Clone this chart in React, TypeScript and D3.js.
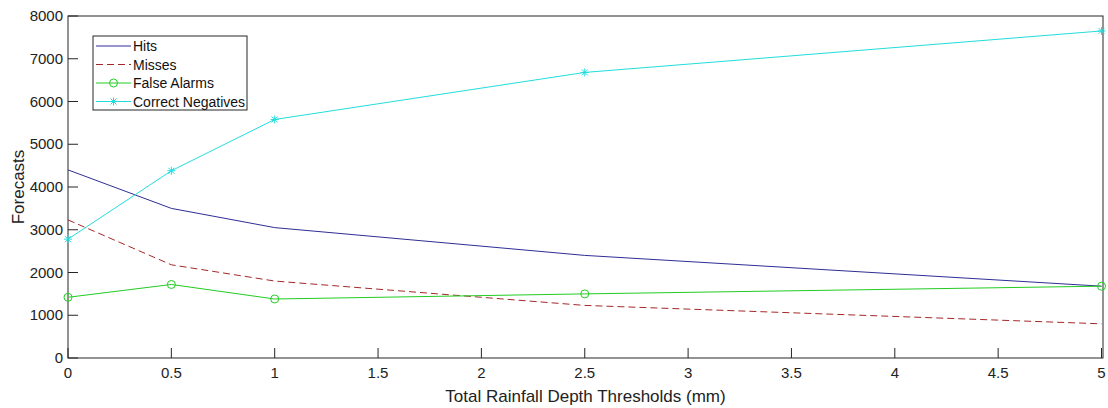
import React from "react";
import * as d3 from "d3";

const thresholds = [0, 0.5, 1, 2.5, 5];
const hits = [4400, 3500, 3050, 2400, 1680];
const misses = [3230, 2180, 1800, 1230, 800];
const falseAlarms = [1420, 1720, 1380, 1500, 1680];
const correctNegatives = [2780, 4380, 5580, 6680, 7650];
const xTicks = [0, 0.5, 1, 1.5, 2, 2.5, 3, 3.5, 4, 4.5, 5];
const yTicks = [0, 1000, 2000, 3000, 4000, 5000, 6000, 7000, 8000];

const W = 1108, H = 408;
const L = 68, R = 1103, T = 16, B = 358;

export default function App() {
  const x = d3.scaleLinear().domain([0, 5]).range([L, R - 1.5]);
  const y = d3.scaleLinear().domain([0, 8000]).range([B, T]);
  const line = d3.line<number>().x((_, i) => x(thresholds[i])).y((d) => y(d));
  const font = "'Liberation Sans', Arial, sans-serif";
  const axisColor = "#262626";
  const series = [
    { name: "Hits", vals: hits, color: "#2e2e96", dash: undefined as string | undefined, marker: "none" },
    { name: "Misses", vals: misses, color: "#a52828", dash: "7,4", marker: "none" },
    { name: "False Alarms", vals: falseAlarms, color: "#22cc22", dash: undefined, marker: "circle" },
    { name: "Correct Negatives", vals: correctNegatives, color: "#22dddd", dash: undefined, marker: "star" },
  ];
  const star = (cx: number, cy: number, c: string, k: string) => (
    <g key={k} stroke={c} strokeWidth={1}>
      <line x1={cx - 4} y1={cy} x2={cx + 4} y2={cy} />
      <line x1={cx} y1={cy - 4} x2={cx} y2={cy + 4} />
      <line x1={cx - 3} y1={cy - 3} x2={cx + 3} y2={cy + 3} />
      <line x1={cx - 3} y1={cy + 3} x2={cx + 3} y2={cy - 3} />
    </g>
  );
  const marker = (m: string, cx: number, cy: number, c: string, k: string) =>
    m === "circle" ? (
      <circle key={k} cx={cx} cy={cy} r={4} fill="none" stroke={c} strokeWidth={1} />
    ) : m === "star" ? star(cx, cy, c, k) : null;

  return (
    <svg width={W} height={H} style={{ position: "absolute", left: 0, top: 0, background: "#fff" }} fontFamily={font}>
      <rect x={0} y={0} width={W} height={H} fill="#fff" />
      <rect x={L} y={T} width={R - L} height={B - T} fill="none" stroke={axisColor} strokeWidth={1} />
      {xTicks.map((t) => (
        <g key={"x" + t}>
          <line x1={x(t)} x2={x(t)} y1={B} y2={B - 10} stroke={axisColor} />
          <text x={x(t)} y={B + 20} fontSize={15} textAnchor="middle" fill="#222">{t}</text>
        </g>
      ))}
      {yTicks.map((t) => (
        <g key={"y" + t}>
          <line x1={L} x2={L + 10} y1={y(t)} y2={y(t)} stroke={axisColor} />
          <text x={L - 5} y={y(t) + 5} fontSize={15} textAnchor="end" fill="#222">{t}</text>
        </g>
      ))}
      <text x={(L + R) / 2} y={402} fontSize={17} textAnchor="middle" fill="#222">Total Rainfall Depth Thresholds (mm)</text>
      <text transform={`translate(24,${(T + B) / 2}) rotate(-90)`} fontSize={17} textAnchor="middle" fill="#222">Forecasts</text>
      {series.map((s) => (
        <g key={s.name}>
          <path d={line(s.vals) || ""} fill="none" stroke={s.color} strokeWidth={1} strokeDasharray={s.dash} />
          {s.vals.map((v, i) => marker(s.marker, x(thresholds[i]), y(v), s.color, s.name + i))}
        </g>
      ))}
      <rect x={93} y={36} width={154} height={74} fill="#fff" stroke={axisColor} strokeWidth={1} />
      {series.map((s, i) => {
        const ly = 46 + i * 18.5;
        return (
          <g key={"lg" + s.name}>
            <line x1={96} x2={131} y1={ly} y2={ly} stroke={s.color} strokeWidth={1} strokeDasharray={s.dash} />
            {marker(s.marker, 113.5, ly, s.color, "lm" + i)}
            <text x={133} y={ly + 5} fontSize={14} fill="#111">{s.name}</text>
          </g>
        );
      })}
    </svg>
  );
}
